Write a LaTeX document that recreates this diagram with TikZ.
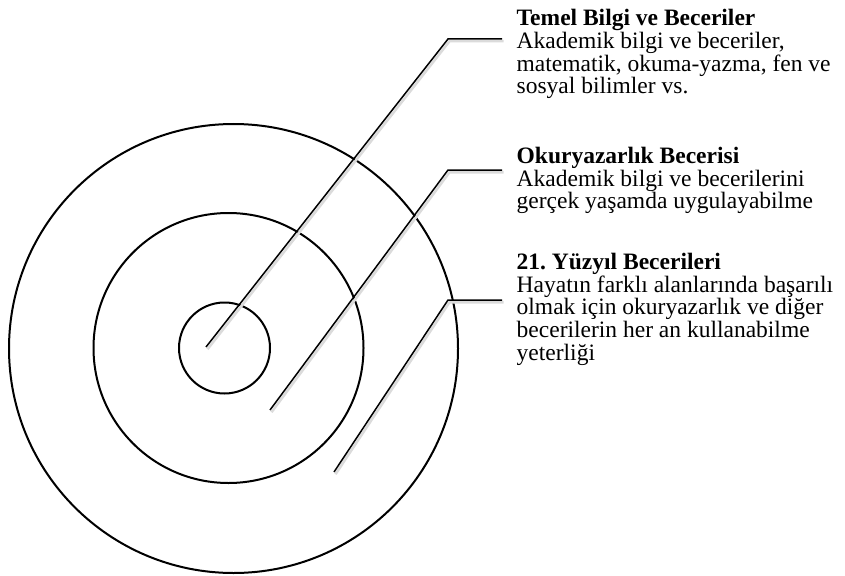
\documentclass[tikz,border=0pt]{standalone}
\usepackage{fontspec}
\setmainfont{Liberation Serif}
\frenchspacing
\begin{document}
\begin{tikzpicture}[x=1pt,y=-1pt,
  ring/.style={circle, draw, line width=2pt, inner sep=0pt, outer sep=0pt},
  leader/.style={line width=1.5pt},
  leadershadow/.style={line width=2.6pt, draw=black!14, transform canvas={shift={(1.5pt,-2.2pt)}}},
  txtblock/.style={anchor=base west, align=left, inner sep=0pt, font=\fontsize{23.5}{22.7}\selectfont}]
\useasboundingbox (0,0) rectangle (845,575);
% rings
\node[ring, minimum size=449pt] (outer) at (233.5,348.5) {};
\node[ring, minimum size=270pt] (middle) at (228.5,348) {};
\node[ring, minimum size=91pt] (inner) at (224.5,348) {};
% leader points
\coordinate (s1) at (206,347);
\coordinate (k1) at (448,39);
\coordinate (e1) at (502,39);
\coordinate (s2) at (270,410);
\coordinate (k2) at (448,170);
\coordinate (e2) at (502,170);
\coordinate (s3) at (334,472);
\coordinate (k3) at (448,300);
\coordinate (e3) at (502,300);
% shadows
\draw[leadershadow] (s1) -- (k1) -- (e1);
\draw[leadershadow] (s2) -- (k2) -- (e2);
\draw[leadershadow] (s3) -- (k3) -- (e3);
% leaders
\draw[leader] (s1) -- (k1) -- (e1);
\draw[leader] (s2) -- (k2) -- (e2);
\draw[leader] (s3) -- (k3) -- (e3);
% texts (anchored at the baseline of the last line)
\node[txtblock] (t1) at (516.5,93.8) {\textbf{Temel Bilgi ve Beceriler}\\Akademik bilgi ve beceriler,\\matematik, okuma-yazma, fen ve\\sosyal bilimler vs.};
\node[txtblock] (t2) at (516.5,208.7) {\textbf{Okuryazarlık Becerisi}\\Akademik bilgi ve becerilerini\\gerçek yaşamda uygulayabilme};
\node[txtblock] (t3) at (516.5,360.1) {\textbf{21.\ Yüzyıl Becerileri}\\Hayatın farklı alanlarında başarılı\\olmak için okuryazarlık ve diğer\\becerilerin her an kullanabilme\\yeterliği};
\end{tikzpicture}
\end{document}
